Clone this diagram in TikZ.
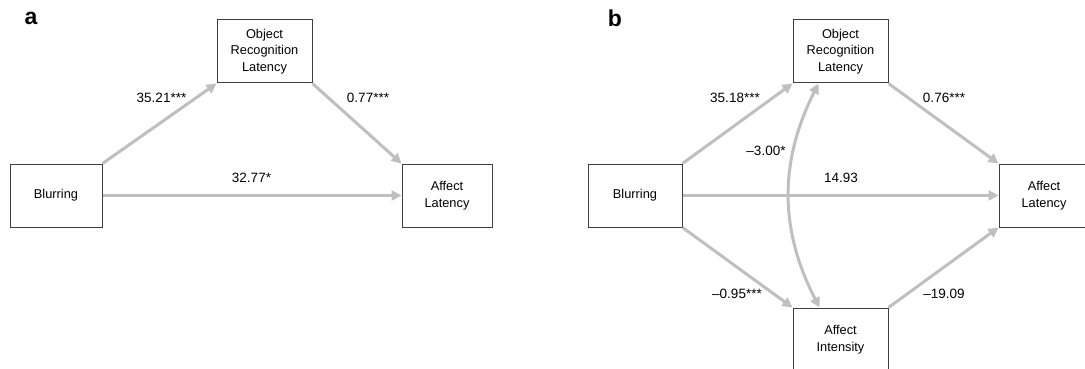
\documentclass[tikz,border=0pt]{standalone}
\usepackage{fontspec}
\setmainfont{Liberation Sans}
\usetikzlibrary{arrows.meta}
\tikzset{
  var/.style={draw=black!75, line width=1pt, minimum width=92pt, minimum height=63pt,
    inner sep=0pt, align=center, font=\fontsize{12.8}{16.5}\selectfont},
  path/.style={draw=black!25, line width=3pt, -{Triangle[length=10pt,width=10pt]}},
  coef/.style={font=\fontsize{13.5}{15}\selectfont},
  panel/.style={font=\fontsize{23}{25}\selectfont\bfseries}
}
\begin{document}
\begin{tikzpicture}[x=1pt,y=1pt]
\useasboundingbox (0,0) rectangle (1085,-369);
% panel a
\node[panel] (la) at (31,-18) {a};
\node[var] (blura) at (56,-195.5) {Blurring};
\node[var, minimum width=95pt] (orla) at (264.5,-51.5) {Object\\Recognition\\Latency};
\node[var, minimum width=90pt] (afla) at (447,-195.5) {Affect\\Latency};
\draw[path] (blura.north east) -- (orla.south west);
\draw[path] (orla.south east) -- (afla.north west);
\draw[path] (blura.east) -- (afla.west);
\node[coef] (ca1) at (161.5,-98) {35.21***};
\node[coef] (ca2) at (368,-98) {0.77***};
\node[coef] (ca3) at (251.5,-178) {32.77*};
% panel b
\node[panel] (lb) at (615,-18) {b};
\node[var, minimum width=94pt] (blurb) at (635,-195.5) {Blurring};
\node[var, minimum width=95pt] (orlb) at (840.5,-51.5) {Object\\Recognition\\Latency};
\node[var, minimum width=90pt] (aflb) at (1044,-195.5) {Affect\\Latency};
\node[var, minimum width=95pt] (aint) at (840.5,-339.5) {Affect\\Intensity};
\draw[path] (blurb.north east) -- (orlb.south west);
\draw[path] (orlb.south east) -- (aflb.north west);
\draw[path] (blurb.east) -- (aflb.west);
\draw[path] (blurb.south east) -- (aint.north west);
\draw[path] (aint.north east) -- (aflb.south west);
\draw[path, {Triangle[length=10pt,width=10pt]}-{Triangle[length=10pt,width=10pt]}]
  ([xshift=-22pt]orlb.south) to[bend right=27] ([xshift=-21pt]aint.north);
\node[coef] (cb1) at (735,-98) {35.18***};
\node[coef] (cb2) at (944,-98) {0.76***};
\node[coef] (cb3) at (766,-151) {–3.00*};
\node[coef] (cb4) at (841,-178) {14.93};
\node[coef] (cb5) at (737,-294) {–0.95***};
\node[coef] (cb6) at (944,-294) {–19.09};
\end{tikzpicture}
\end{document}
